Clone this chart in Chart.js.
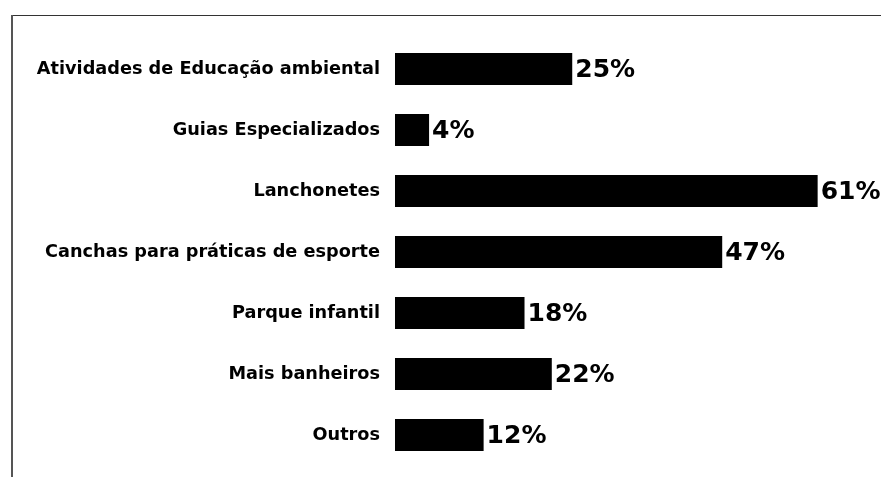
<!DOCTYPE html>
<html>
<head>
<meta charset="utf-8">
<script src="https://cdn.jsdelivr.net/npm/chart.js@4/dist/chart.umd.min.js"></script>
<style>
  html, body { margin: 0; padding: 0; background: #fff; }
  #wrap { width: 881px; height: 477px; position: relative; }
</style>
</head>
<body>
<div id="wrap"><canvas id="c"></canvas></div>
<script>
const categories = [
  "Atividades de Educação ambiental",
  "Guias Especializados",
  "Lanchonetes",
  "Canchas para práticas de esporte",
  "Parque infantil",
  "Mais banheiros",
  "Outros"
];
const values = [25, 4, 61, 47, 18, 22, 12];
const valueLabels = ["25%", "4%", "61%", "47%", "18%", "22%", "12%"];

const FONT = "'DejaVu Sans', 'Liberation Sans', Arial, sans-serif";

const framePlugin = {
  id: 'frame',
  beforeDraw(chart) {
    const ctx = chart.ctx;
    ctx.save();
    ctx.fillStyle = '#fff';
    ctx.fillRect(0, 0, chart.width, chart.height);
    ctx.strokeStyle = '#333';
    ctx.lineWidth = 1;
    ctx.beginPath();
    ctx.moveTo(11, 15.5);
    ctx.lineTo(chart.width, 15.5);
    ctx.stroke();
    ctx.strokeStyle = '#555';
    ctx.lineWidth = 2;
    ctx.beginPath();
    ctx.moveTo(12, 15);
    ctx.lineTo(12, chart.height);
    ctx.stroke();
    ctx.restore();
  }
};

const valueLabelPlugin = {
  id: 'valueLabels',
  afterDatasetsDraw(chart) {
    const ctx = chart.ctx;
    const meta = chart.getDatasetMeta(0);
    ctx.save();
    ctx.fillStyle = '#000';
    ctx.font = "bold 25px " + FONT;
    ctx.textAlign = 'left';
    ctx.textBaseline = 'middle';
    meta.data.forEach((bar, i) => {
      ctx.fillText(valueLabels[i], bar.x + 3, bar.y + 1);
    });
    ctx.restore();
  }
};

new Chart(document.getElementById('c'), {
  type: 'bar',
  data: {
    labels: categories,
    datasets: [{
      data: values,
      base: -1,
      backgroundColor: '#000',
      borderWidth: 0,
      categoryPercentage: 1,
      barPercentage: 0.525
    }]
  },
  plugins: [framePlugin, valueLabelPlugin],
  options: {
    indexAxis: 'y',
    responsive: true,
    maintainAspectRatio: false,
    animation: false,
    layout: { padding: { left: 0, right: 2, top: 38.5, bottom: 11.5 } },
    plugins: {
      legend: { display: false },
      tooltip: { enabled: false }
    },
    scales: {
      x: {
        display: false,
        min: -3.2,
        max: 70
      },
      y: {
        grid: { display: false, drawTicks: false },
        border: { display: false },
        ticks: {
          color: '#000',
          padding: 0,
          font: { family: FONT, size: 17.7, weight: 'bold' }
        },
        afterFit(scale) { scale.width = 380; }
      }
    }
  }
});
</script>
</body>
</html>
